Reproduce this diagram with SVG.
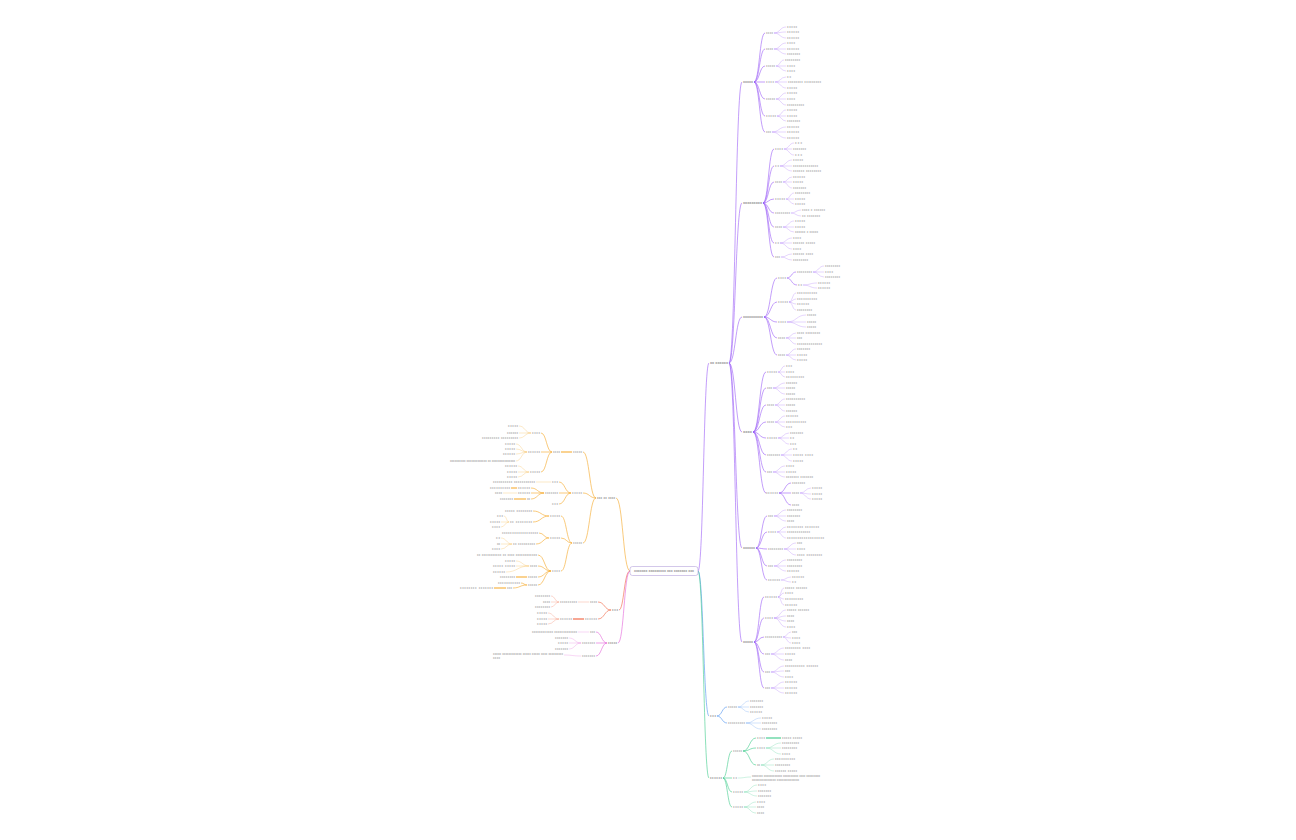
<svg xmlns="http://www.w3.org/2000/svg" width="1296" height="840" viewBox="0 0 1296 840">
<style>
text{font-family:"Liberation Sans","Noto Sans CJK SC",sans-serif;font-size:3px;fill:#8a8a8a}
.e{text-anchor:end}
.m{fill:#666}
.c{fill:none;stroke-width:0.6}
.f{fill:none;stroke-width:0.5;stroke-opacity:0.5}
.s{fill:none;stroke-width:1.1}
.pu{stroke:#9B5CF6}.bl{stroke:#4A90F0}.gr{stroke:#3CCB8A}.or{stroke:#F5A623}.rd{stroke:#F0603C}.pk{stroke:#E35FD8}
</style>
<rect width="1296" height="840" fill="#fff"/>
<g id="connectors">
<path class="c pu" d="M698 571C703.5 571 703.5 363 709 363 M729 363C735.5 363 735.5 82 742 82 M729 363C735.5 363 735.5 203 742 203 M729 363C735.5 363 735.5 317 742 317 M729 363C735.5 363 735.5 432 742 432 M729 363C735.5 363 735.5 548 742 548 M729 363C735.5 363 735.5 642 742 642"/>
<path class="c pu" d="M754 82C759.5 82 759.5 33 765 33M754 82C759.5 82 759.5 49 765 49M754 82C759.5 82 759.5 66 765 66M754 82L765 82M754 82C759.5 82 759.5 99 765 99M754 82C759.5 82 759.5 116 765 116M754 82C759.5 82 759.5 132 765 132
M763 203C768.5 203 768.5 149 774 149M763 203C768.5 203 768.5 166 774 166M763 203C768.5 203 768.5 182 774 182M763 203C768.5 203 768.5 199 774 199M763 203C768.5 203 768.5 213 774 213M763 203C768.5 203 768.5 227 774 227M763 203C768.5 203 768.5 243 774 243M763 203C768.5 203 768.5 257 774 257
M764 317C770.5 317 770.5 278 777 278M764 317C770.5 317 770.5 302 777 302M764 317C770.5 317 770.5 322 777 322M764 317C770.5 317 770.5 338 777 338M764 317C770.5 317 770.5 355 777 355
M753 432C759.5 432 759.5 372 766 372M753 432C759.5 432 759.5 388 766 388M753 432C759.5 432 759.5 405 766 405M753 432C759.5 432 759.5 422 766 422M753 432C759.5 432 759.5 438 766 438M753 432C759.5 432 759.5 455 766 455M753 432C759.5 432 759.5 472 766 472M753 432C759.5 432 759.5 493 766 493
M756 548C761.5 548 761.5 516 767 516M756 548C761.5 548 761.5 532 767 532M756 548C761.5 548 761.5 549 767 549M756 548C761.5 548 761.5 566 767 566M756 548C761.5 548 761.5 580 767 580
M754 642C759 642 759 597 764 597M754 642C759 642 759 618 764 618M754 642C759 642 759 637 764 637M754 642C759 642 759 654 764 654M754 642C759 642 759 672 764 672M754 642C759 642 759 688 764 688
M787 278C791.5 278 791.5 272 796 272M787 278C791.5 278 791.5 285 797 285M779 493C785 493 785 483 791 483M779 493L791 493M779 493C785 493 785 505 791 505"/>
<path class="f pu" d="M774 33C780 33 780 27 786 27M774 33C780 33 780 32 786 32M774 33C780 33 780 38 786 38
M774 49C780 49 780 43 786 43M774 49L786 49M774 49C780 49 780 54 786 54
M776 66C780 66 780 60 784 60M776 66L786 66M776 66C781 66 781 71 786 71
M775 82C780.5 82 780.5 77 786 77M775 82L787 82M775 82C780.5 82 780.5 88 786 88
M776 99C781 99 781 93 786 93M776 99L786 99M776 99C781 99 781 105 786 105
M777 116C781.5 116 781.5 110 786 110M777 116L786 116M777 116C781.5 116 781.5 121 786 121
M772 132C779 132 779 127 786 127M772 132L786 132M772 132C779 132 779 138 786 138
M784 149C789 149 789 143 794 143M784 149L792 149M784 149C789 149 789 155 794 155
M780 166C786 166 786 160 792 160M780 166L792 166M780 166C786 166 786 171 792 171
M783 182C787.5 182 787.5 177 792 177M783 182L792 182M783 182C787.5 182 787.5 188 792 188
M786 199C790 199 790 193 794 193M786 199L794 199M786 199C790 199 790 204 794 204
M791 213C796 213 796 210 801 210M791 213C796 213 796 216 801 216
M783 227C788.5 227 788.5 221 794 221M783 227L794 227M783 227C788.5 227 788.5 232 794 232
M780 243C786 243 786 238 792 238M780 243L792 243M780 243C786 243 786 249 792 249
M781 257C786.5 257 786.5 254 792 254M781 257C786.5 257 786.5 260 792 260
M813 272C818.5 272 818.5 266 824 266M813 272L824 272M813 272C818.5 272 818.5 277 824 277
M803 285C810 285 810 283 817 283M803 285C810 285 810 288 817 288
M789 302C792.5 302 792.5 293 796 293M789 302C792.5 302 792.5 299 796 299M789 302C792.5 302 792.5 304 796 304M789 302C792.5 302 792.5 310 796 310
M787 322C796.5 322 796.5 315 806 315M787 322L806 322M787 322C796.5 322 796.5 327 806 327
M786 338C791 338 791 333 796 333M786 338L796 338M786 338C791 338 791 344 796 344
M786 355C791 355 791 349 796 349M786 355L796 355M786 355C791 355 791 360 796 360
M778 372C781.5 372 781.5 366 785 366M778 372L785 372M778 372C781.5 372 781.5 377 785 377
M773 388C779 388 779 383 785 383M773 388L785 388M773 388C779 388 779 394 785 394
M775 405C780 405 780 399 785 399M775 405L785 405M775 405C780 405 780 411 785 411
M775 422C780 422 780 416 785 416M775 422L785 422M775 422C780 422 780 427 785 427
M778 438C783.5 438 783.5 433 789 433M778 438L789 438M778 438C783.5 438 783.5 444 789 444
M781 455C786.5 455 786.5 449 792 449M781 455L792 455M781 455C786.5 455 786.5 461 792 461
M773 472C779 472 779 466 785 466M773 472L785 472M773 472C779 472 779 477 785 477
M800 493C805.5 493 805.5 488 811 488M800 493C805.5 493 805.5 494 811 494M800 493C805.5 493 805.5 499 811 499
M774 516C780 516 780 510 786 510M774 516L786 516M774 516C780 516 780 521 786 521
M777 532C781.5 532 781.5 527 786 527M777 532L786 532M777 532C781.5 532 781.5 538 786 538
M784 549C790 549 790 543 796 543M784 549L796 549M784 549C790 549 790 555 796 555
M774 566C780 566 780 560 786 560M774 566L786 566M774 566C780 566 780 571 786 571
M781 580C786 580 786 577 791 577M781 580C786 580 786 582 791 582
M778 597C781 597 781 588 784 588M778 597C781 597 781 593 784 593M778 597C781 597 781 599 784 599M778 597C781 597 781 605 784 605
M774 618C780 618 780 610 786 610M774 618C780 618 780 616 786 616M774 618C780 618 780 621 786 621M774 618C780 618 780 627 786 627
M783 637C787 637 787 632 791 632M783 637C787 637 787 638 791 638M783 637C787 637 787 643 791 643
M771 654C777.5 654 777.5 648 784 648M771 654L784 654M771 654C777.5 654 777.5 660 784 660
M771 672C777.5 672 777.5 666 784 666M771 672C777.5 672 777.5 671 784 671M771 672C777.5 672 777.5 677 784 677
M771 688C777.5 688 777.5 682 784 682M771 688L784 688M771 688C777.5 688 777.5 693 784 693"/>
<path class="c bl" d="M698 571C703.5 571 703.5 716 709 716M717 716C722 716 722 707 727 707M717 716C722 716 722 723 727 723"/>
<path class="f bl" d="M738 707C743.5 707 743.5 701 749 701M738 707L749 707M738 707C743.5 707 743.5 712 749 712M746 723C753.5 723 753.5 718 761 718M746 723L761 723M746 723C753.5 723 753.5 729 761 729"/>
<path class="c gr" d="M698 571C703.5 571 703.5 778 709 778M723 778C727.5 778 727.5 751 732 751M723 778L732 778M723 778C727.5 778 727.5 792 732 792M723 778C727.5 778 727.5 807 732 807M743 751C749.5 751 749.5 738 756 738M743 751C749.5 751 749.5 748 756 748M743 751C749.5 751 749.5 765 756 765"/>
<path class="s gr" d="M766 738L781 738"/>
<path class="f gr" d="M766 748C773.5 748 773.5 743 781 743M766 748L781 748M766 748C773.5 748 773.5 754 781 754M761 765C767.5 765 767.5 759 774 759M761 765L774 765M761 765C767.5 765 767.5 771 774 771M738 778C744.5 778 744.5 777 751 777M744 792C750.5 792 750.5 785 757 785M744 792C750.5 792 750.5 791 757 791M744 792C750.5 792 750.5 796 757 796M744 807C750 807 750 802 756 802M744 807L756 807M744 807C750 807 750 813 756 813"/>
<path class="c or" d="M630 571C623 571 623 498 616 498M596 498C589.5 498 589.5 452 583 452M596 498C589.5 498 589.5 493 583 493M596 498C589.5 498 589.5 543 583 543M552 452C546.5 452 546.5 433 541 433M552 452L541 452M552 452C546.5 452 546.5 472 541 472M571 493C565 493 565 482 559 482M571 493L559 493M571 493C565 493 565 504 559 504M544 493C537.5 493 537.5 488 531 488M544 493L531 493M544 493C537.5 493 537.5 499 531 499M572 543C566.5 543 566.5 516 561 516M572 543C566.5 543 566.5 538 561 538M572 543C566.5 543 566.5 571 561 571M549 516C541 516 541 511 533 511M549 516C541 516 541 522 533 522M549 538C544 538 544 533 539 533M549 538C543 538 543 544 536 544M551 571C544.5 571 544.5 555 538 555M551 571C544.5 571 544.5 566 538 566M551 571C544.5 571 544.5 577 538 577M551 571C544.5 571 544.5 585 538 585M527 585C524 585 524 583 521 583M527 585C520 585 520 588 513 588"/>
<path class="s or" d="M572 452L561 452M517 488L511 488M526 499L514 499M527 577L516 577M506 588L494 588"/>
<path class="f or" d="M551 482L536 482M517 493L503 493M531 433C525 433 525 426 519 426M531 433L519 433M531 433C525 433 525 438 519 438M527 452C521.5 452 521.5 444 516 444M527 452C521.5 452 521.5 449 516 449M527 452C521.5 452 521.5 454 516 454M527 452C521.5 452 521.5 461 516 461M529 472C523.5 472 523.5 466 518 466M529 472L518 472M529 472C523.5 472 523.5 477 518 477M509 522C506.5 522 506.5 516 504 516M509 522L501 522M509 522C505 522 505 527 501 527M512 544C506.5 544 506.5 538 501 538M512 544L501 544M512 544C506.5 544 506.5 549 501 549M529 566C522.5 566 522.5 561 516 561M529 566L516 566M529 566C517.5 566 517.5 572 506 572"/>
<path class="c rd" d="M630 571C624 571 624 610 619 610M611 610C604.5 610 604.5 602 598 602M611 610C604.5 610 604.5 619 598 619"/>
<path class="s rd" d="M584 619L573 619"/>
<path class="f rd" d="M589 602L578 602M559 602C555 602 555 596 551 596M559 602L551 602M559 602C555 602 555 607 551 607M559 619C553.5 619 553.5 613 548 613M559 619L548 619M559 619C553.5 619 553.5 624 548 624"/>
<path class="c pk" d="M630 571C624 571 624 643 618 643M607 643C601.5 643 601.5 632 596 632M607 643L596 643M607 643C601.5 643 601.5 656 596 656"/>
<path class="f pk" d="M589 632L578 632M581 643C575 643 575 638 569 638M581 643L569 643M581 643C575 643 575 649 569 649M581 656C572.5 656 572.5 655 564 655"/>
</g>
<g id="root"><rect x="630" y="566.5" width="68" height="9" rx="2.5" fill="#fff" stroke="#b6a3dc" stroke-width="0.6"/><text class="m" x="634" y="572.2" font-size="3.4" textLength="60" lengthAdjust="spacingAndGlyphs">xxxxxxx xxxxxxxxx xxx xxxxxxx xxx</text></g>
<g id="nA"><text class="m" x="710" y="364" textLength="18" lengthAdjust="spacingAndGlyphs">xx xxxxxx</text></g>
<g id="nA1"><text class="m" x="743" y="83" textLength="10" lengthAdjust="spacingAndGlyphs">xxxxx</text></g>
<g id="nA2"><text class="m" x="743" y="204" textLength="19" lengthAdjust="spacingAndGlyphs">xxxxxxxxx</text></g>
<g id="nA3"><text class="m" x="743" y="318" textLength="20" lengthAdjust="spacingAndGlyphs">xxxxxxxxxx</text></g>
<g id="nA4"><text class="m" x="743" y="433" textLength="9" lengthAdjust="spacingAndGlyphs">xxxx</text></g>
<g id="nA5"><text class="m" x="743" y="549" textLength="12" lengthAdjust="spacingAndGlyphs">xxxxxx</text></g>
<g id="nA6"><text class="m" x="743" y="643" textLength="10" lengthAdjust="spacingAndGlyphs">xxxxx</text></g>
<g id="nA1c"><text x="766" y="34" textLength="7">xxxx</text><text x="766" y="50" textLength="7">xxxx</text><text x="766" y="67" textLength="9">xxxxx</text><text x="766" y="83" textLength="8">xxxx</text><text x="766" y="100" textLength="9">xxxxx</text><text x="766" y="117" textLength="10">xxxxx</text><text x="766" y="133" textLength="5">xxx</text></g>
<g id="nA1l"><text x="787" y="28" textLength="10">xxxxx</text><text x="787" y="33" textLength="12">xxxxxx</text><text x="787" y="39" textLength="12">xxxxxx</text><text x="787" y="44" textLength="8">xxxx</text><text x="787" y="50" textLength="12">xxxxxx</text><text x="787" y="55" textLength="13">xxxxxxx</text><text x="785" y="61" textLength="15">xxxxxxxx</text><text x="787" y="67" textLength="8">xxxx</text><text x="787" y="72" textLength="8">xxxx</text><text x="787" y="78" textLength="4">xx</text><text x="788" y="83" textLength="33">xxxxxxxx xxxxxxxxx</text><text x="787" y="89" textLength="10">xxxxx</text><text x="787" y="94" textLength="10">xxxxx</text><text x="787" y="100" textLength="8">xxxx</text><text x="787" y="106" textLength="17">xxxxxxxxx</text><text x="787" y="111" textLength="10">xxxxx</text><text x="787" y="117" textLength="10">xxxxx</text><text x="787" y="122" textLength="13">xxxxxxx</text><text x="787" y="128" textLength="12">xxxxxx</text><text x="787" y="133" textLength="12">xxxxxx</text><text x="787" y="139" textLength="12">xxxxxx</text></g>
<g id="nA2c"><text x="775" y="150" textLength="8">xxxx</text><text x="775" y="167" textLength="4">xx</text><text x="775" y="183" textLength="7">xxxx</text><text x="775" y="200" textLength="10">xxxxx</text><text x="775" y="214" textLength="15">xxxxxxxx</text><text x="775" y="228" textLength="7">xxxx</text><text x="775" y="244" textLength="4">xx</text><text x="775" y="258" textLength="5">xxx</text></g>
<g id="nA2l"><text x="795" y="144" textLength="7">xxx</text><text x="793" y="150" textLength="13">xxxxxxx</text><text x="795" y="156" textLength="7">xxx</text><text x="793" y="161" textLength="10">xxxxx</text><text x="793" y="167" textLength="25">xxxxxxxxxxxxx</text><text x="793" y="172" textLength="28">xxxxxx xxxxxxxx</text><text x="793" y="178" textLength="12">xxxxxx</text><text x="793" y="183" textLength="10">xxxxx</text><text x="793" y="189" textLength="13">xxxxxxx</text><text x="795" y="194" textLength="15">xxxxxxxx</text><text x="795" y="200" textLength="10">xxxxx</text><text x="795" y="205" textLength="10">xxxxx</text><text x="802" y="211" textLength="23">xxxx x xxxxxx</text><text x="802" y="217" textLength="18">xx xxxxxxx</text><text x="795" y="222" textLength="10">xxxxx</text><text x="795" y="228" textLength="10">xxxxx</text><text x="795" y="233" textLength="23">xxxxxx x xxxxx</text><text x="793" y="239" textLength="8">xxxx</text><text x="793" y="244" textLength="22">xxxxxx xxxxx</text><text x="793" y="250" textLength="8">xxxx</text><text x="793" y="255" textLength="20">xxxxxx xxxx</text><text x="793" y="261" textLength="15">xxxxxxxx</text></g>
<g id="nA3c"><text x="778" y="279" textLength="8">xxxx</text><text x="778" y="303" textLength="10">xxxxx</text><text x="778" y="323" textLength="8">xxxx</text><text x="778" y="339" textLength="7">xxxx</text><text x="778" y="356" textLength="7">xxxx</text><text x="797" y="273" textLength="15">xxxxxxxx</text><text x="798" y="286" textLength="4">xx</text></g>
<g id="nA3l"><text x="825" y="267" textLength="15">xxxxxxxx</text><text x="825" y="273" textLength="8">xxxx</text><text x="825" y="278" textLength="15">xxxxxxxx</text><text x="818" y="284" textLength="12">xxxxxx</text><text x="818" y="289" textLength="12">xxxxxx</text><text x="797" y="294" textLength="20">xxxxxxxxxx</text><text x="797" y="300" textLength="20">xxxxxxxxxx</text><text x="797" y="305" textLength="12">xxxxxx</text><text x="797" y="311" textLength="15">xxxxxxxx</text><text x="807" y="316" textLength="9">xxxxx</text><text x="807" y="323" textLength="9">xxxxx</text><text x="807" y="328" textLength="9">xxxxx</text><text x="797" y="334" textLength="23">xxxx xxxxxxxx</text><text x="797" y="339" textLength="5">xxx</text><text x="797" y="345" textLength="25">xxxxxxxxxxxxx</text><text x="797" y="350" textLength="13">xxxxxxx</text><text x="797" y="356" textLength="10">xxxxx</text><text x="797" y="361" textLength="10">xxxxx</text></g>
<g id="nA4c"><text x="767" y="373" textLength="10">xxxxx</text><text x="767" y="389" textLength="5">xxx</text><text x="767" y="406" textLength="7">xxxx</text><text x="767" y="423" textLength="7">xxxx</text><text x="767" y="439" textLength="10">xxxxx</text><text x="767" y="456" textLength="13">xxxxxxx</text><text x="767" y="473" textLength="5">xxx</text><text x="766" y="494" textLength="12">xxxxxx</text><text x="792" y="484" textLength="13">xxxxxxx</text><text x="792" y="494" textLength="7">xxxx</text><text x="792" y="506" textLength="7">xxxx</text></g>
<g id="nA4l"><text x="786" y="367" textLength="6">xxx</text><text x="786" y="373" textLength="8">xxxx</text><text x="786" y="378" textLength="18">xxxxxxxxx</text><text x="786" y="384" textLength="11">xxxxxx</text><text x="786" y="389" textLength="9">xxxxx</text><text x="786" y="395" textLength="9">xxxxx</text><text x="786" y="400" textLength="19">xxxxxxxxxx</text><text x="786" y="406" textLength="9">xxxxx</text><text x="786" y="412" textLength="11">xxxxxx</text><text x="786" y="417" textLength="12">xxxxxx</text><text x="786" y="423" textLength="20">xxxxxxxxxx</text><text x="786" y="428" textLength="6">xxx</text><text x="790" y="434" textLength="13">xxxxxxx</text><text x="790" y="439" textLength="4">xx</text><text x="790" y="445" textLength="6">xxx</text><text x="793" y="450" textLength="4">xx</text><text x="793" y="456" textLength="20">xxxxx xxxx</text><text x="793" y="462" textLength="10">xxxxx</text><text x="786" y="467" textLength="8">xxxx</text><text x="786" y="473" textLength="10">xxxxx</text><text x="786" y="478" textLength="27">xxxxxxx xxxxxxx</text><text x="812" y="489" textLength="10">xxxxx</text><text x="812" y="495" textLength="10">xxxxx</text><text x="812" y="500" textLength="10">xxxxx</text></g>
<g id="nA5c"><text x="768" y="517" textLength="5">xxx</text><text x="768" y="533" textLength="8">xxxx</text><text x="768" y="550" textLength="15">xxxxxxxx</text><text x="768" y="567" textLength="5">xxx</text><text x="768" y="581" textLength="12">xxxxxx</text></g>
<g id="nA5l"><text x="787" y="511" textLength="15">xxxxxxxx</text><text x="787" y="517" textLength="13">xxxxxxx</text><text x="787" y="522" textLength="7">xxxx</text><text x="787" y="528" textLength="32">xxxxxxxx xxxxxxx</text><text x="787" y="533" textLength="23">xxxxxxxxxxxx</text><text x="787" y="539" textLength="37">xxxxxxxxxxxxxxxxxx</text><text x="797" y="544" textLength="5">xxx</text><text x="797" y="550" textLength="8">xxxx</text><text x="797" y="556" textLength="25">xxxx xxxxxxxx</text><text x="787" y="561" textLength="15">xxxxxxxx</text><text x="787" y="567" textLength="15">xxxxxxxx</text><text x="787" y="572" textLength="12">xxxxxx</text><text x="792" y="578" textLength="12">xxxxxx</text><text x="792" y="583" textLength="4">xx</text></g>
<g id="nA6c"><text x="765" y="598" textLength="12">xxxxxx</text><text x="765" y="619" textLength="8">xxxx</text><text x="765" y="638" textLength="17">xxxxxxxxx</text><text x="765" y="655" textLength="5">xxx</text><text x="765" y="673" textLength="5">xxx</text><text x="765" y="689" textLength="5">xxx</text></g>
<g id="nA6l"><text x="785" y="589" textLength="22">xxxxx xxxxxx</text><text x="785" y="594" textLength="8">xxxx</text><text x="785" y="600" textLength="18">xxxxxxxxx</text><text x="785" y="606" textLength="12">xxxxxx</text><text x="787" y="611" textLength="22">xxxxx xxxxxx</text><text x="787" y="617" textLength="7">xxxx</text><text x="787" y="622" textLength="7">xxxx</text><text x="787" y="628" textLength="8">xxxx</text><text x="792" y="633" textLength="5">xxx</text><text x="792" y="639" textLength="8">xxxx</text><text x="792" y="644" textLength="8">xxxx</text><text x="785" y="649" textLength="25">xxxxxxxx xxxx</text><text x="785" y="655" textLength="10">xxxxx</text><text x="785" y="661" textLength="7">xxxx</text><text x="785" y="667" textLength="33">xxxxxxxxxx xxxxxx</text><text x="785" y="672" textLength="5">xxx</text><text x="785" y="678" textLength="8">xxxx</text><text x="785" y="683" textLength="12">xxxxxx</text><text x="785" y="689" textLength="12">xxxxxx</text><text x="785" y="694" textLength="12">xxxxxx</text></g>
<g id="nB"><text class="m" x="710" y="717" textLength="6">xxx</text></g>
<g id="nBc"><text x="728" y="708" textLength="9">xxxxx</text><text x="728" y="724" textLength="17">xxxxxxxxx</text></g>
<g id="nBl"><text x="750" y="702" textLength="13">xxxxxxx</text><text x="750" y="708" textLength="13">xxxxxxx</text><text x="750" y="713" textLength="12">xxxxxx</text><text x="762" y="719" textLength="10">xxxxx</text><text x="762" y="724" textLength="15">xxxxxxxx</text><text x="762" y="730" textLength="15">xxxxxxxx</text></g>
<g id="nC"><text class="m" x="710" y="779" textLength="12">xxxxxx</text></g>
<g id="nCc"><text x="733" y="752" textLength="9">xxxxx</text><text x="733" y="779" textLength="4">xx</text><text x="733" y="793" textLength="10">xxxxx</text><text x="733" y="808" textLength="10">xxxxx</text><text x="757" y="739" textLength="8">xxxx</text><text x="757" y="749" textLength="8">xxxx</text><text x="757" y="766" textLength="3">xx</text></g>
<g id="nCl"><text x="782" y="739" textLength="20">xxxxx xxxxx</text><text x="782" y="744" textLength="17">xxxxxxxxx</text><text x="782" y="749" textLength="15">xxxxxxxx</text><text x="782" y="755" textLength="8">xxxx</text><text x="775" y="760" textLength="20">xxxxxxxxxx</text><text x="775" y="766" textLength="15">xxxxxxxx</text><text x="775" y="772" textLength="22">xxxxxx xxxxx</text><text x="752" y="777" textLength="68">xxxxxxx xxxxxxxxxxxx xxxxxxxxxx xxxx xxxxxxxxx</text><text x="752" y="781" textLength="47">xxxxxxxxxxxxxxx xxxxxxxxxxxxxx</text><text x="758" y="786" textLength="8">xxxx</text><text x="758" y="792" textLength="13">xxxxxxx</text><text x="758" y="797" textLength="13">xxxxxxx</text><text x="757" y="803" textLength="8">xxxx</text><text x="757" y="808" textLength="7">xxxx</text><text x="757" y="814" textLength="7">xxxx</text></g>
<g id="nO"><text class="m e" x="615" y="499" textLength="18">xxx xx xxxx</text></g>
<g id="nOc"><text class="e" x="582" y="453" textLength="9">xxxxx</text><text class="e" x="582" y="494" textLength="10">xxxxx</text><text class="e" x="582" y="544" textLength="9">xxxxx</text><text class="e" x="560" y="453" textLength="7">xxxx</text><text class="e" x="558" y="483" textLength="6">xxx</text><text class="e" x="558" y="494" textLength="13">xxxxxxx</text><text class="e" x="558" y="505" textLength="6">xxx</text><text class="e" x="560" y="517" textLength="10">xxxxx</text><text class="e" x="560" y="539" textLength="10">xxxxx</text><text class="e" x="560" y="572" textLength="8">xxxx</text></g>
<g id="nOl"><text class="e" x="540" y="434" textLength="8">xxxx</text><text class="e" x="540" y="453" textLength="12">xxxxxx</text><text class="e" x="540" y="473" textLength="10">xxxxx</text><text class="e" x="518" y="427" textLength="10">xxxxx</text><text class="e" x="518" y="434" textLength="11">xxxxxx</text><text class="e" x="518" y="439" textLength="36">xxxxxxxxx xxxxxxxxx</text><text class="e" x="515" y="445" textLength="10">xxxxx</text><text class="e" x="515" y="450" textLength="10">xxxxx</text><text class="e" x="515" y="455" textLength="12">xxxxxx</text><text class="e" x="515" y="462" textLength="65">xxxxxxxxxx xxxxxxxxxxxxx xx xxxxxxxxxxxxxxx</text><text class="e" x="517" y="467" textLength="12">xxxxxx</text><text class="e" x="517" y="473" textLength="10">xxxxx</text><text class="e" x="517" y="478" textLength="10">xxxxx</text><text class="e" x="535" y="483" textLength="42">xxxxxxxxxx xxxxxxxxxxx</text><text class="e" x="530" y="489" textLength="12">xxxxxx</text><text class="e" x="530" y="494" textLength="12">xxxxxx</text><text class="e" x="530" y="500" textLength="3">xx</text><text class="e" x="510" y="489" textLength="20">xxxxxxxxxx</text><text class="e" x="502" y="494" textLength="7">xxxx</text><text class="e" x="513" y="500" textLength="13">xxxxxxx</text><text class="e" x="532" y="512" textLength="27">xxxxx xxxxxxxx</text><text class="e" x="532" y="523" textLength="22">xx xxxxxxxx</text><text class="e" x="503" y="517" textLength="6">xxx</text><text class="e" x="500" y="523" textLength="10">xxxxx</text><text class="e" x="500" y="528" textLength="8">xxxx</text><text class="e" x="538" y="534" textLength="36">xxxxxxxxxxxxxxxxxx</text><text class="e" x="535" y="545" textLength="22">xx xxxxxxxxx</text><text class="e" x="500" y="539" textLength="4">xx</text><text class="e" x="500" y="545" textLength="3">xx</text><text class="e" x="500" y="550" textLength="8">xxxx</text><text class="e" x="537" y="556" textLength="60">xx xxxxxxxxxxx xx xxxx xxxxxxxxxxxx</text><text class="e" x="537" y="567" textLength="7">xxxx</text><text class="e" x="537" y="578" textLength="9">xxxxx</text><text class="e" x="537" y="586" textLength="9">xxxxx</text><text class="e" x="515" y="562" textLength="10">xxxxx</text><text class="e" x="515" y="567" textLength="22">xxxxx xxxxx</text><text class="e" x="505" y="573" textLength="12">xxxxxx</text><text class="e" x="515" y="578" textLength="15">xxxxxxxx</text><text class="e" x="520" y="584" textLength="22">xxxxxxxxxxx</text><text class="e" x="512" y="589" textLength="5">xxx</text><text class="e" x="493" y="589" textLength="33">xxxxxxxx xxxxxxx</text></g>
<g id="nR"><text class="m e" x="618" y="611" textLength="6">xxx</text></g>
<g id="nRc"><text class="e" x="597" y="603" textLength="7">xxxx</text><text class="e" x="597" y="620" textLength="12">xxxxxx</text><text class="e" x="577" y="603" textLength="17">xxxxxxxxx</text><text class="e" x="572" y="620" textLength="12">xxxxxx</text></g>
<g id="nRl"><text class="e" x="550" y="597" textLength="15">xxxxxxxx</text><text class="e" x="550" y="603" textLength="7">xxxx</text><text class="e" x="550" y="608" textLength="15">xxxxxxxx</text><text class="e" x="547" y="614" textLength="10">xxxxx</text><text class="e" x="547" y="620" textLength="10">xxxxx</text><text class="e" x="547" y="625" textLength="10">xxxxx</text></g>
<g id="nP"><text class="m e" x="617" y="644" textLength="9">xxxxx</text></g>
<g id="nPc"><text class="e" x="595" y="633" textLength="5">xxx</text><text class="e" x="595" y="644" textLength="13">xxxxxxx</text><text class="e" x="595" y="657" textLength="13">xxxxxxx</text></g>
<g id="nPl"><text class="e" x="577" y="633" textLength="45">xxxxxxxxxxxx xxxxxxxxxxxxx</text><text class="e" x="568" y="639" textLength="13">xxxxxxx</text><text class="e" x="568" y="644" textLength="10">xxxxx</text><text class="e" x="568" y="650" textLength="13">xxxxxxx</text><text x="493" y="655" textLength="70">xxxxx xxxxxxxxxxxx xxxxx xxxxx xxxx xxxxxxxxx</text><text x="493" y="659" textLength="7">xxxx</text></g>
</svg>
